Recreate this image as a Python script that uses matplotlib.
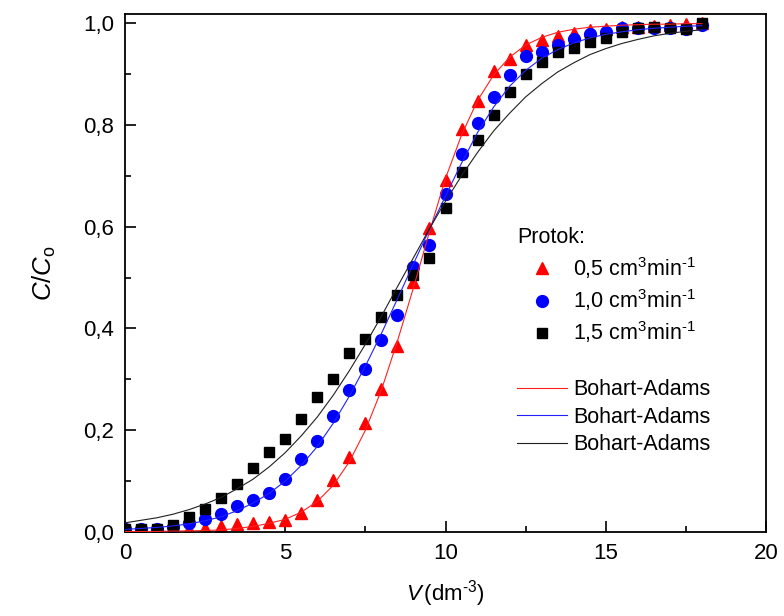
import matplotlib
matplotlib.use('Agg')
import matplotlib.pyplot as plt
from matplotlib.ticker import MultipleLocator, FuncFormatter
from matplotlib.lines import Line2D

plt.rcParams['font.family'] = 'Liberation Sans'
plt.rcParams['mathtext.fontset'] = 'custom'
plt.rcParams['mathtext.rm'] = 'Liberation Sans'
plt.rcParams['mathtext.it'] = 'Liberation Sans:italic'

# zapremina (dm3) - eksperimentalne tacke i tacke modela
v = [0.0, 0.5, 1.0, 1.5, 2.0, 2.5, 3.0, 3.5, 4.0, 4.5, 5.0, 5.5, 6.0, 6.5,
     7.0, 7.5, 8.0, 8.5, 9.0, 9.5, 10.0, 10.5, 11.0, 11.5, 12.0, 12.5, 13.0,
     13.5, 14.0, 14.5, 15.0, 15.5, 16.0, 16.5, 17.0, 17.5, 18.0]

# C/Co - protok 0,5 cm3/min
exp_05 = [0.003, 0.005, 0.005, 0.005, 0.005, 0.007, 0.012, 0.016, 0.018, 0.020,
          0.024, 0.037, 0.062, 0.103, 0.147, 0.214, 0.282, 0.365, 0.492, 0.597,
          0.692, 0.792, 0.848, 0.906, 0.929, 0.957, 0.967, 0.975, 0.980, 0.986,
          0.989, 0.992, 0.993, 0.994, 0.997, 0.998, 1.000]
# C/Co - protok 1,0 cm3/min
exp_10 = [0.005, 0.005, 0.005, 0.010, 0.018, 0.026, 0.036, 0.051, 0.062, 0.077,
          0.104, 0.143, 0.179, 0.228, 0.280, 0.320, 0.377, 0.426, 0.521, 0.564,
          0.665, 0.743, 0.803, 0.855, 0.898, 0.936, 0.944, 0.957, 0.968, 0.978,
          0.982, 0.991, 0.990, 0.990, 0.990, 0.989, 0.997]
# C/Co - protok 1,5 cm3/min
exp_15 = [0.005, 0.005, 0.005, 0.013, 0.030, 0.045, 0.066, 0.094, 0.126, 0.157,
          0.182, 0.223, 0.265, 0.300, 0.351, 0.380, 0.423, 0.465, 0.505, 0.538,
          0.637, 0.708, 0.770, 0.819, 0.865, 0.900, 0.924, 0.943, 0.951, 0.963,
          0.970, 0.982, 0.990, 0.992, 0.991, 0.989, 1.000]

# Bohart-Adams krive (ocitane sa slike)
ba_05 = [0.001, 0.001, 0.001, 0.002, 0.002, 0.003, 0.004, 0.007, 0.011, 0.017,
         0.025, 0.039, 0.060, 0.092, 0.138, 0.200, 0.279, 0.375, 0.480, 0.590,
         0.695, 0.780, 0.848, 0.898, 0.933, 0.957, 0.972, 0.982, 0.988, 0.992,
         0.994, 0.996, 0.997, 0.998, 0.998, 0.999, 0.999]
ba_10 = [0.005, 0.007, 0.009, 0.012, 0.016, 0.022, 0.030, 0.042, 0.057, 0.076,
         0.100, 0.131, 0.168, 0.214, 0.267, 0.326, 0.390, 0.458, 0.527, 0.595,
         0.660, 0.725, 0.785, 0.835, 0.876, 0.907, 0.931, 0.948, 0.961, 0.971,
         0.978, 0.983, 0.987, 0.990, 0.992, 0.994, 0.995]
ba_15 = [0.018, 0.023, 0.028, 0.035, 0.044, 0.055, 0.068, 0.085, 0.104, 0.128,
         0.156, 0.189, 0.226, 0.269, 0.317, 0.369, 0.424, 0.482, 0.539, 0.596,
         0.650, 0.700, 0.746, 0.788, 0.823, 0.855, 0.881, 0.904, 0.922, 0.938,
         0.950, 0.960, 0.968, 0.975, 0.980, 0.984, 0.987]

fig = plt.figure(figsize=(7.84, 6.16), dpi=100)
ax = fig.add_axes([125/784, 84/616, 641/784, 518/616])

# eksperimentalne tacke
ax.plot(v, exp_05, linestyle='none', marker='^', ms=8.5, color='#ff0000', zorder=2)
ax.plot(v, exp_10, linestyle='none', marker='o', ms=8.5, color='#0000ff', zorder=2)
ax.plot(v, exp_15, linestyle='none', marker='s', ms=7, color='black', zorder=2)

# model
ax.plot(v, ba_05, color='#ff2020', lw=0.8, zorder=3)
ax.plot(v, ba_10, color='#2020ff', lw=0.8, zorder=3)
ax.plot(v, ba_15, color='#202020', lw=0.8, zorder=3)

ax.set_xlim(0, 20)
ax.set_ylim(0, 1.018)
ax.xaxis.set_major_locator(MultipleLocator(5))
ax.xaxis.set_minor_locator(MultipleLocator(2.5))
ax.yaxis.set_major_locator(MultipleLocator(0.2))
ax.yaxis.set_minor_locator(MultipleLocator(0.1))
ax.yaxis.set_major_formatter(FuncFormatter(lambda y, p: ('%.1f' % y).replace('.', ',')))
ax.tick_params(which='both', direction='in', top=False, right=False, width=1.2)
ax.tick_params(which='major', length=8, labelsize=16, pad=8)
ax.tick_params(which='minor', length=4)
for s in ax.spines.values():
    s.set_linewidth(1.3)

ax.set_xlabel(r'$\mathit{V}\,(\mathrm{dm}^{\text{-}3})$', fontsize=16, labelpad=10)
ax.set_ylabel(r'$\mathit{C/C}_{\mathrm{o}}$', fontsize=18.5, labelpad=18)

handles = [
    Line2D([], [], linestyle='none', marker='^', ms=8.5, color='#ff0000'),
    Line2D([], [], linestyle='none', marker='o', ms=8.5, color='#0000ff'),
    Line2D([], [], linestyle='none', marker='s', ms=7, color='black'),
    Line2D([], [], linestyle='none'),
    Line2D([], [], color='#ff2020', lw=0.8),
    Line2D([], [], color='#2020ff', lw=0.8),
    Line2D([], [], color='#202020', lw=0.8),
]
labels = [r'0,5 cm$^3$min$^{\text{-}1}$', r'1,0 cm$^3$min$^{\text{-}1}$',
          r'1,5 cm$^3$min$^{\text{-}1}$', '',
          'Bohart-Adams', 'Bohart-Adams', 'Bohart-Adams']
leg = ax.legend(handles, labels, title='Protok:', loc='upper left',
                bbox_to_anchor=(0.612, 0.588), frameon=False, fontsize=15.5,
                title_fontsize=15.5, alignment='left', handlelength=2.3,
                handletextpad=0.3, labelspacing=0.3, borderpad=0, borderaxespad=0)

fig.savefig('out.png', dpi=100)
